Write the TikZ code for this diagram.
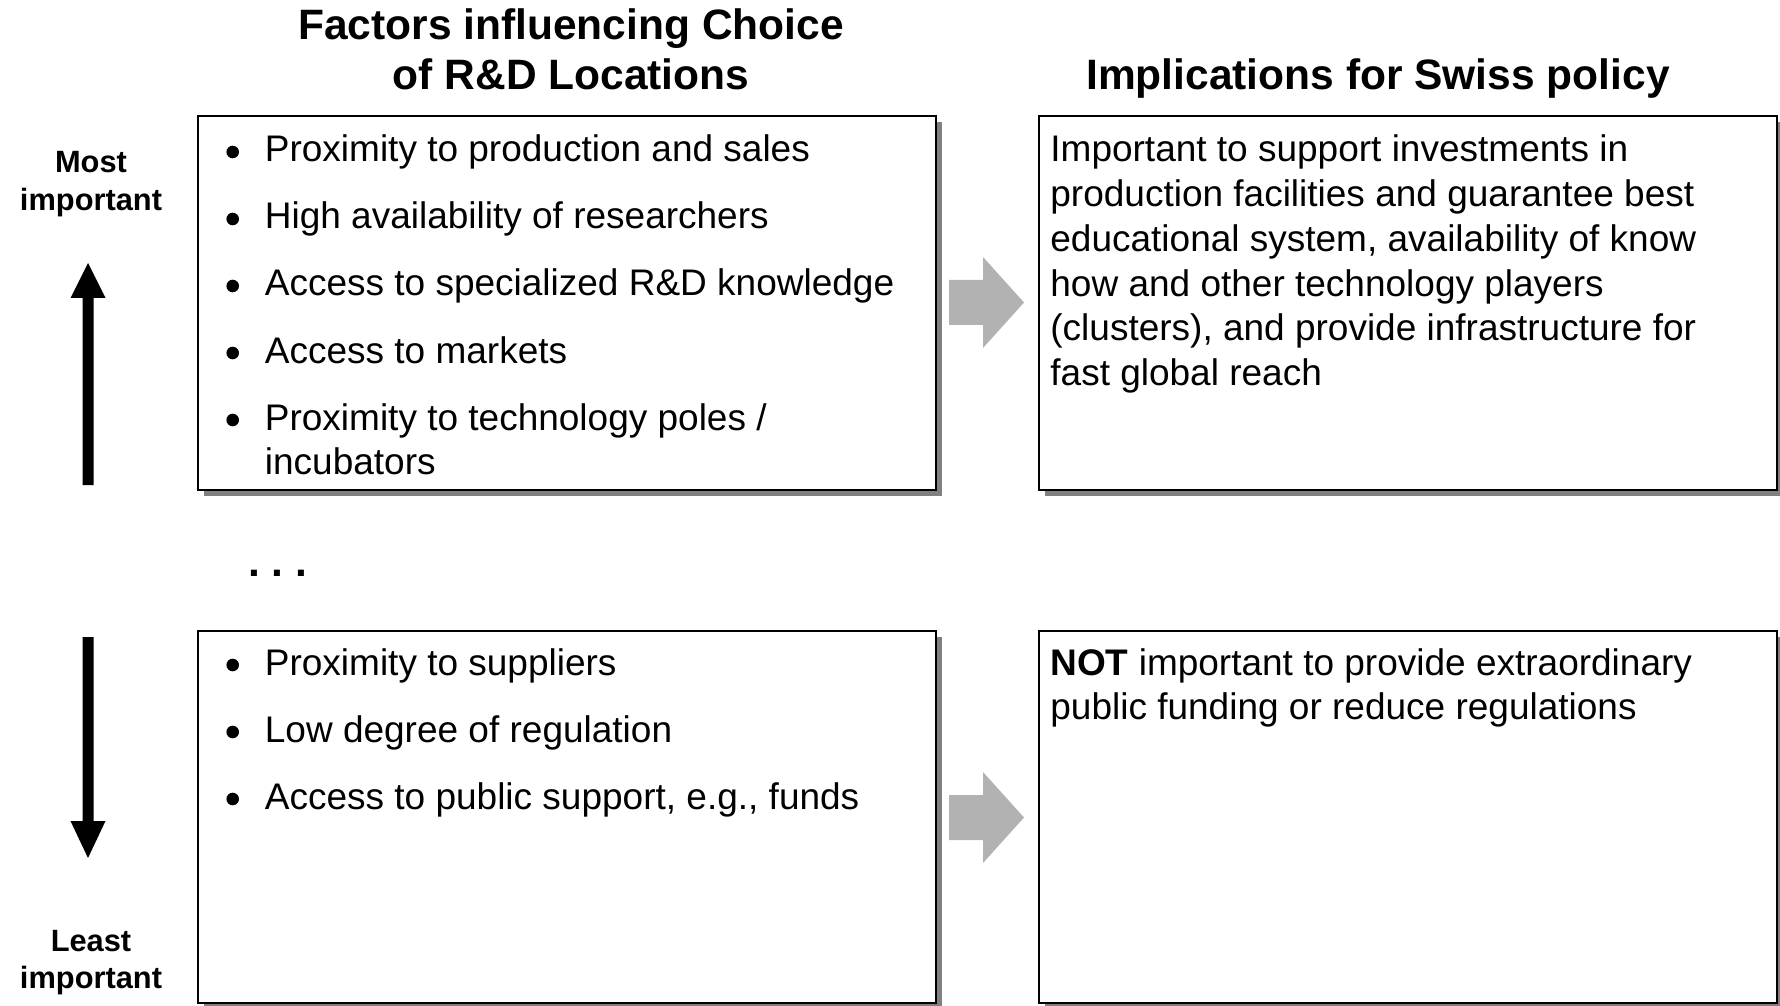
\documentclass[tikz,border=0pt]{standalone}
\usepackage{fontspec}
\setmainfont{Liberation Sans}
\usetikzlibrary{shadows}
\begin{document}
\begin{tikzpicture}[x=0.5pt,y=-0.5pt,
  body/.style={font=\fontsize{18.5}{22}\selectfont, anchor=base west, inner sep=0pt},
  head/.style={font=\fontsize{21.25}{25}\selectfont\bfseries, anchor=base, inner sep=0pt},
  side/.style={font=\fontsize{15.4}{18}\selectfont\bfseries, anchor=base, inner sep=0pt},
  panel/.style={draw=black, line width=1pt, fill=white, anchor=north west, inner sep=0pt,
    minimum width=369pt, general shadow={shadow xshift=3pt, shadow yshift=-3pt, fill=black!50}},
  bul/.style={circle, fill=black, inner sep=0pt, minimum size=6.3pt},
  flow/.style={fill=black!30, draw=none},
  rank/.style={fill=black, draw=none}]

\useasboundingbox (0,0) rectangle (1780,1005);

% column headings
\node[head] (h1) at (571,40) {Factors influencing Choice};
\node[head] (h2) at (571,90) {of R\&D Locations};
\node[head] (h3) at (1378,90) {Implications for Swiss policy};

% side labels
\node[side] (most1) at (91,173) {Most};
\node[side] (most2) at (91,210.5) {important};
\node[side] (least1) at (91,951) {Least};
\node[side] (least2) at (91,988.5) {important};

% ranking arrows
\fill[rank] (82.5,485) -- (82.5,298) -- (70.5,298) -- (88,263) -- (105.5,298)
  -- (93.5,298) -- (93.5,485) -- cycle;
\fill[rank] (82.5,637) -- (93.5,637) -- (93.5,821) -- (105.5,821) -- (88,858)
  -- (70.5,821) -- (82.5,821) -- cycle;

% panels
\node[panel, minimum height=187pt] (tl) at (197,115) {};
\node[panel, minimum height=187pt] (tr) at (1038,115) {};
\node[panel, minimum height=186pt] (bl) at (197,630) {};
\node[panel, minimum height=186pt] (br) at (1038,630) {};

% flow arrows between panels
\fill[flow] (949,280) -- (983,280) -- (983,257) -- (1024,302.5) -- (983,348)
  -- (983,325) -- (949,325) -- cycle;
\fill[flow] (949,795) -- (983,795) -- (983,772) -- (1024,817.5) -- (983,863)
  -- (983,840) -- (949,840) -- cycle;

% most important factors
\foreach \t [count=\i] in {Proximity to production and sales,
    High availability of researchers,
    Access to specialized R\&D knowledge,
    Access to markets,
    Proximity to technology poles /}{
  \pgfmathsetmacro{\yb}{162+67*(\i-1)}
  \node[bul] (tb\i) at (232.7,\yb-10) {};
  \node[body] (tf\i) at (264.5,\yb) {\t};
}
\node[body] (tf6) at (264.5,474.6) {incubators};

% implications, top
\foreach \t [count=\i] in {Important to support investments in,
    production facilities and guarantee best,
    {educational system, availability of know},
    how and other technology players,
    {(clusters), and provide infrastructure for},
    fast global reach}{
  \pgfmathsetmacro{\yb}{162+44.7*(\i-1)}
  \node[body] (ti\i) at (1050,\yb) {\t};
}

% ellipsis
\node[head, anchor=base west] (gap) at (248,576) {.\ .\ .};

% least important factors
\foreach \t [count=\i] in {Proximity to suppliers,
    Low degree of regulation,
    {Access to public support, e.g., funds}}{
  \pgfmathsetmacro{\yb}{675+67*(\i-1)}
  \node[bul] (bb\i) at (232.7,\yb-10) {};
  \node[body] (bf\i) at (264.5,\yb) {\t};
}

% implications, bottom
\node[body] (bi1) at (1050,675) {\textbf{NOT} important to provide extraordinary};
\node[body] (bi2) at (1050,719.7) {public funding or reduce regulations};

\end{tikzpicture}
\end{document}
